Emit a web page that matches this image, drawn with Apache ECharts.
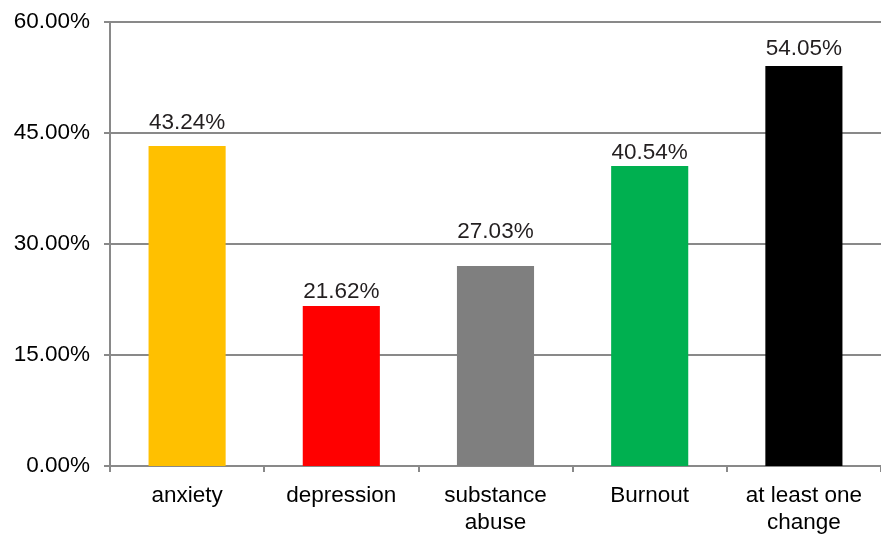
<!DOCTYPE html>
<html>
<head>
<meta charset="utf-8">
<script src="https://cdn.jsdelivr.net/npm/echarts@6/dist/echarts.min.js"></script>
<style>
  html, body { margin: 0; padding: 0; background: #fff; }
  #main { width: 881px; height: 536px; }
</style>
</head>
<body>
<div id="main"></div>
<script>
  // categories and values (percent)
  var categories = ['anxiety', 'depression', 'substance\nabuse', 'Burnout', 'at least one\nchange'];
  var values = [43.24, 21.62, 27.03, 40.54, 54.05];
  var barColors = ['#ffc000', '#ff0000', '#7f7f7f', '#00b050', '#000000'];
  var labelGap = [12, 3, 23, 2, 6]; // px between bar top and value label, as in the original
  var yMin = 0, yMax = 60, yStep = 15;

  var font = 'Liberation Sans, Arial';
  var chart = echarts.init(document.getElementById('main'));
  chart.setOption({
    animation: false,
    grid: { left: 110, right: -3, top: 22, bottom: 63, containLabel: false },
    xAxis: {
      type: 'category',
      data: categories,
      axisLine: { lineStyle: { color: '#898989', width: 2 } },
      axisTick: { show: true, length: 6, lineStyle: { color: '#898989', width: 2 } },
      axisLabel: { color: '#000', fontFamily: font, fontSize: 22.5, lineHeight: 27, margin: 16, interval: 0 }
    },
    yAxis: {
      type: 'value',
      min: yMin, max: yMax, interval: yStep,
      axisLine: { show: true, lineStyle: { color: '#898989', width: 2 } },
      axisTick: { show: true, length: 6, lineStyle: { color: '#898989', width: 2 } },
      splitLine: { lineStyle: { color: '#898989', width: 2 } },
      axisLabel: {
        color: '#000', fontFamily: font, fontSize: 22.5, margin: 20,
        formatter: function (v) { return v.toFixed(2) + '%'; }
      }
    },
    series: [{
      type: 'bar',
      barWidth: '50%',
      data: values.map(function (v, i) {
        return { value: v, itemStyle: { color: barColors[i] }, label: { distance: labelGap[i] } };
      }),
      label: {
        show: true, position: 'top',
        color: '#231f20', fontFamily: font, fontSize: 22.5,
        formatter: function (p) { return p.value.toFixed(2) + '%'; }
      }
    }]
  });
</script>
</body>
</html>
